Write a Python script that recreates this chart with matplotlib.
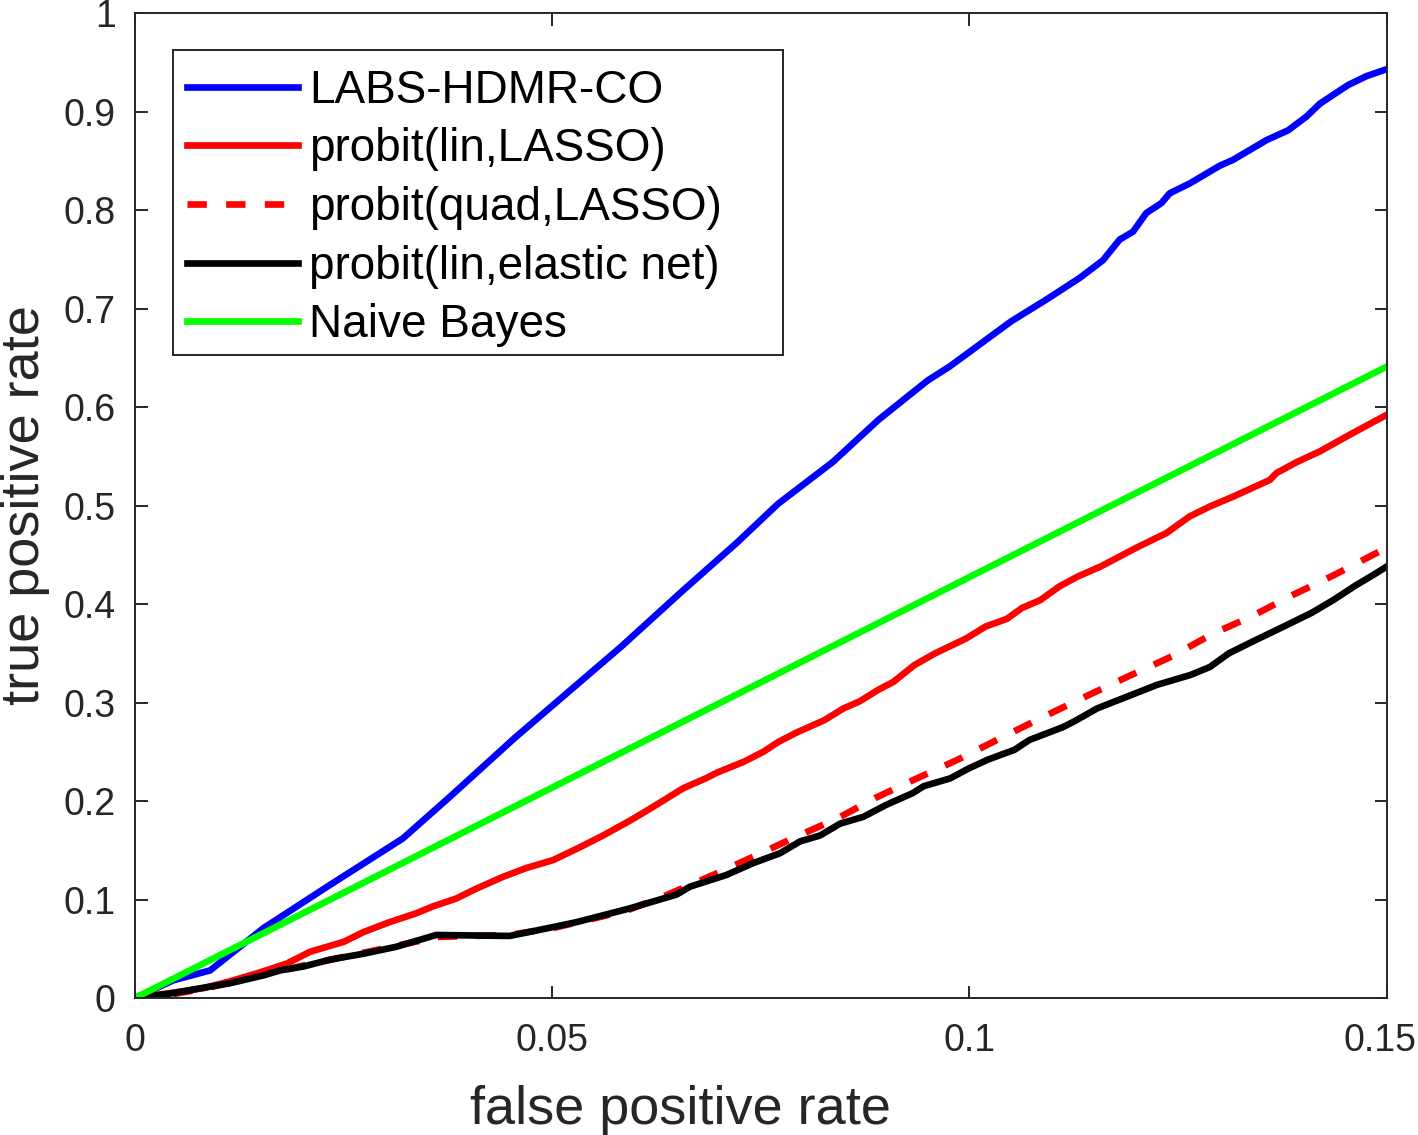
import numpy as np
import matplotlib
matplotlib.use("Agg")
import matplotlib.pyplot as plt
from matplotlib.patches import Rectangle
from matplotlib.ticker import FuncFormatter
from matplotlib.transforms import ScaledTranslation

plt.rcParams['font.family'] = ['Liberation Sans', 'DejaVu Sans']

# data
labs_fpr = [0, 0.0046, 0.009, 0.0154, 0.0234, 0.0321, 0.0377, 0.0455, 0.0583,
            0.0657, 0.0721, 0.0771, 0.0836, 0.0891, 0.0950, 0.0976, 0.1050,
            0.1092, 0.1132, 0.1160, 0.1180, 0.1196, 0.1212, 0.1230, 0.1240,
            0.1264, 0.1300, 0.1316, 0.1356, 0.1382, 0.1404, 0.1420, 0.1436,
            0.1454, 0.1476, 0.1500]
labs_tpr = [0, 0.018, 0.028, 0.071, 0.115, 0.162, 0.204, 0.264, 0.357,
            0.414, 0.462, 0.502, 0.544, 0.587, 0.627, 0.641, 0.687,
            0.709, 0.731, 0.749, 0.770, 0.778, 0.797, 0.807, 0.817,
            0.827, 0.845, 0.851, 0.871, 0.881, 0.895, 0.908, 0.917,
            0.927, 0.936, 0.943]

lin_lasso_fpr = [0, 0.0042, 0.0082, 0.0114, 0.0146, 0.0182, 0.0210, 0.0250,
                 0.0274, 0.0305, 0.0337, 0.0357, 0.0385, 0.0409, 0.0441,
                 0.0469, 0.0501, 0.0533, 0.0561, 0.0593, 0.0613, 0.0638,
                 0.0657, 0.0684, 0.0698, 0.0730, 0.0753, 0.0771, 0.0794,
                 0.0826, 0.0849, 0.0868, 0.0891, 0.0909, 0.0934, 0.0959,
                 0.0996, 0.1019, 0.1045, 0.1063, 0.1085, 0.1108, 0.1130,
                 0.1157, 0.1184, 0.1202, 0.1236, 0.1264, 0.1288, 0.1316,
                 0.1360, 0.1368, 0.1392, 0.1420, 0.1456, 0.1480, 0.1500]
lin_lasso_tpr = [0, 0.005, 0.010, 0.017, 0.025, 0.035, 0.047, 0.057,
                 0.067, 0.077, 0.086, 0.093, 0.101, 0.111, 0.123,
                 0.132, 0.140, 0.153, 0.165, 0.180, 0.190, 0.203,
                 0.213, 0.223, 0.229, 0.240, 0.250, 0.260, 0.270,
                 0.282, 0.294, 0.301, 0.313, 0.321, 0.338, 0.350,
                 0.365, 0.377, 0.385, 0.396, 0.404, 0.418, 0.428,
                 0.438, 0.450, 0.458, 0.472, 0.489, 0.499, 0.509,
                 0.526, 0.533, 0.544, 0.555, 0.572, 0.583, 0.592]

quad_lasso_fpr = [0, 0.0046, 0.0086, 0.0154, 0.0202, 0.0274, 0.0341, 0.0361,
                  0.0449, 0.0501, 0.0561, 0.0593, 0.0633, 0.0693, 0.0745,
                  0.0793, 0.0841, 0.0887, 0.0932, 0.0986, 0.1040, 0.1090,
                  0.1139, 0.1189, 0.1243, 0.1292, 0.1337, 0.1387, 0.1436,
                  0.1486, 0.1500]
quad_lasso_tpr = [0, 0.004, 0.010, 0.024, 0.033, 0.046, 0.058, 0.062,
                  0.064, 0.071, 0.083, 0.090, 0.103, 0.125, 0.145,
                  0.164, 0.182, 0.203, 0.221, 0.242, 0.265, 0.286,
                  0.306, 0.326, 0.347, 0.370, 0.387, 0.409, 0.429,
                  0.451, 0.457]

enet_fpr = [0, 0.0046, 0.0086, 0.0114, 0.0154, 0.0174, 0.0202, 0.0234, 0.0274,
            0.0313, 0.0341, 0.0361, 0.0449, 0.0501, 0.0529, 0.0561, 0.0593,
            0.0621, 0.0649, 0.0665, 0.0709, 0.0741, 0.0773, 0.0797, 0.0821,
            0.0845, 0.0873, 0.0900, 0.0932, 0.0945, 0.0977, 0.0999, 0.1022,
            0.1054, 0.1072, 0.1112, 0.1126, 0.1153, 0.1189, 0.1225, 0.1265,
            0.1288, 0.1311, 0.1342, 0.1369, 0.1410, 0.1436, 0.1463, 0.1481,
            0.1500]
enet_tpr = [0, 0.005, 0.011, 0.015, 0.023, 0.028, 0.032, 0.039, 0.045,
            0.052, 0.059, 0.064, 0.063, 0.072, 0.077, 0.084, 0.091,
            0.098, 0.105, 0.113, 0.125, 0.137, 0.147, 0.159, 0.165,
            0.177, 0.184, 0.196, 0.208, 0.215, 0.223, 0.233, 0.242,
            0.252, 0.262, 0.275, 0.281, 0.294, 0.306, 0.318, 0.328,
            0.336, 0.350, 0.363, 0.374, 0.391, 0.404, 0.419, 0.428,
            0.438]

nb_fpr = [0, 0.15]
nb_tpr = [0, 0.641]

labels = ['LABS-HDMR-CO', 'probit(lin,LASSO)', 'probit(quad,LASSO)',
          'probit(lin,elastic net)', 'Naive Bayes']

grey = '#262626'
lw = 4.8

fig = plt.figure(figsize=(14.18, 11.35), dpi=100)
ax = fig.add_axes([0.0952, 0.1207, 0.8827, 0.8678])

ax.plot(labs_fpr, labs_tpr, color=(0, 0, 1), lw=lw, label=labels[0])
ax.plot(lin_lasso_fpr, lin_lasso_tpr, color=(1, 0, 0), lw=lw, label=labels[1])
ax.plot(quad_lasso_fpr, quad_lasso_tpr, color=(1, 0, 0), lw=lw,
        ls=(0, (2.9, 2.9)), label=labels[2])
ax.plot(enet_fpr, enet_tpr, color='k', lw=lw, label=labels[3])
ax.plot(nb_fpr, nb_tpr, color=(0, 1, 0), lw=lw, label=labels[4])

ax.set_xlim(0, 0.15)
ax.set_ylim(0, 1)
ax.set_xticks([0, 0.05, 0.1, 0.15])
ax.set_yticks(np.arange(0, 1.01, 0.1))
fmt = FuncFormatter(lambda v, p: '%g' % round(v, 3))
ax.xaxis.set_major_formatter(fmt)
ax.yaxis.set_major_formatter(fmt)

ax.tick_params(direction='in', length=9, width=1.4, colors=grey,
               labelsize=27, top=True, right=True)
ax.tick_params(axis='y', pad=14)
ax.tick_params(axis='x', pad=18)
for s in ax.spines.values():
    s.set_linewidth(1.4)
    s.set_color(grey)

# last x label is pulled in a bit so it stays inside the figure
last = ax.get_xticklabels()[-1]
last.set_transform(last.get_transform() +
                   ScaledTranslation(-0.07, 0, fig.dpi_scale_trans))

ax.set_xlabel('false positive rate', fontsize=39, color=grey)
ax.set_ylabel('true positive rate', fontsize=39, color=grey)
ax.xaxis.set_label_coords(0.436, -0.088)
ax.yaxis.set_label_coords(-0.068, 0.5)

# matlab style legend box, wider than the text block
ax.add_patch(Rectangle((0.0304, 0.6528), 0.4872, 0.3096, transform=ax.transAxes,
                       facecolor='white', edgecolor=grey, lw=1.4, zorder=4))
leg = ax.legend(loc='upper left', bbox_to_anchor=(0.0304, 0.9574),
                borderaxespad=0, fontsize=33, handlelength=2.42,
                handletextpad=0.25, borderpad=0.3, labelspacing=0.32,
                frameon=False)
leg.set_zorder(5)

fig.savefig('out.png', dpi=100)
